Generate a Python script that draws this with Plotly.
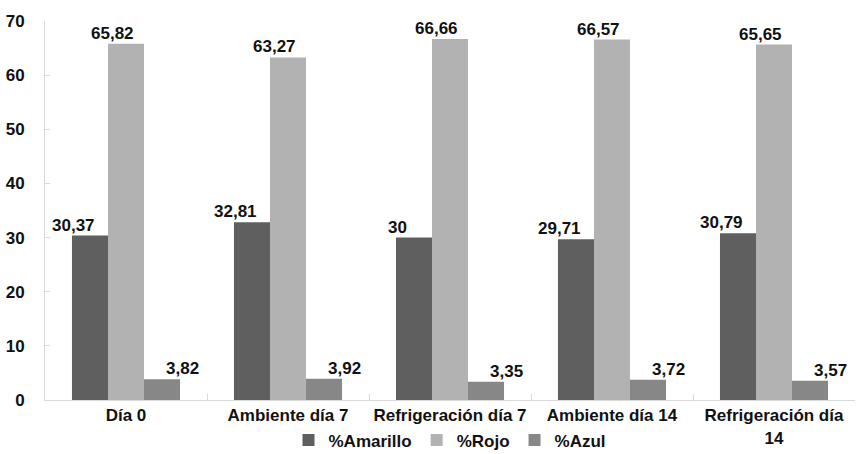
import plotly.graph_objects as go

# grouped bars: colour percentages per storage condition
categories = ["Día 0", "Ambiente día 7", "Refrigeración día 7",
              "Ambiente día 14", "Refrigeración día<br>14"]
amarillo = [30.37, 32.81, 30.00, 29.71, 30.79]
rojo = [65.82, 63.27, 66.66, 66.57, 65.65]
azul = [3.82, 3.92, 3.35, 3.72, 3.57]
amarillo_txt = ["30,37", "32,81", "30", "29,71", "30,79"]
rojo_txt = ["65,82", "63,27", "66,66", "66,57", "65,65"]
azul_txt = ["3,82", "3,92", "3,35", "3,72", "3,57"]

series = [
    ("%Amarillo", amarillo, amarillo_txt, "#5f5f5f", -53),
    ("%Rojo", rojo, rojo_txt, "#b2b2b2", -14),
    ("%Azul", azul, azul_txt, "#878787", 56),
]

fig = go.Figure()
for name, vals, txt, col, shift in series:
    fig.add_trace(go.Bar(x=categories, y=vals, name=name, marker_color=col,
                         marker_line_width=0))
    # data labels, nudged like the original excel labels
    for c, v, t in zip(categories, vals, txt):
        fig.add_annotation(x=c, y=v, text=t, showarrow=False, yanchor="bottom",
                           xshift=shift, yshift=-1,
                           font=dict(size=17, color="#111111", weight="bold"))

fig.update_layout(
    width=863, height=454,
    margin=dict(l=45, r=8, t=21, b=54),
    plot_bgcolor="white", paper_bgcolor="white",
    barmode="group", bargap=0.333, bargroupgap=0,
    font=dict(family="Liberation Sans, Arial, sans-serif", size=16,
              color="#111111", weight="bold"),
    legend=dict(orientation="h", x=0.5, xanchor="center", yref="container",
                y=0.03, yanchor="middle", font=dict(size=17), itemwidth=30,
                bgcolor="rgba(0,0,0,0)", traceorder="normal", tracegroupgap=0),
)
fig.update_xaxes(showline=True, linecolor="#d9d9d9", linewidth=1,
                 ticks="inside", tickson="boundaries", ticklen=6,
                 tickcolor="#d9d9d9", tickfont=dict(size=17), tickangle=0,
                 automargin=False)
fig.update_yaxes(range=[0, 70], dtick=10, showgrid=False, zeroline=False,
                 showline=True, linecolor="#d9d9d9", linewidth=1,
                 ticks="inside", ticklen=5, tickcolor="#d9d9d9",
                 ticklabelstandoff=16, tickfont=dict(size=17), automargin=False)

# drop the browser's default body margin so the figure sits at the corner
fig.write_html("out.html", config={"displayModeBar": False},
               post_script="document.body.style.margin='0';")
